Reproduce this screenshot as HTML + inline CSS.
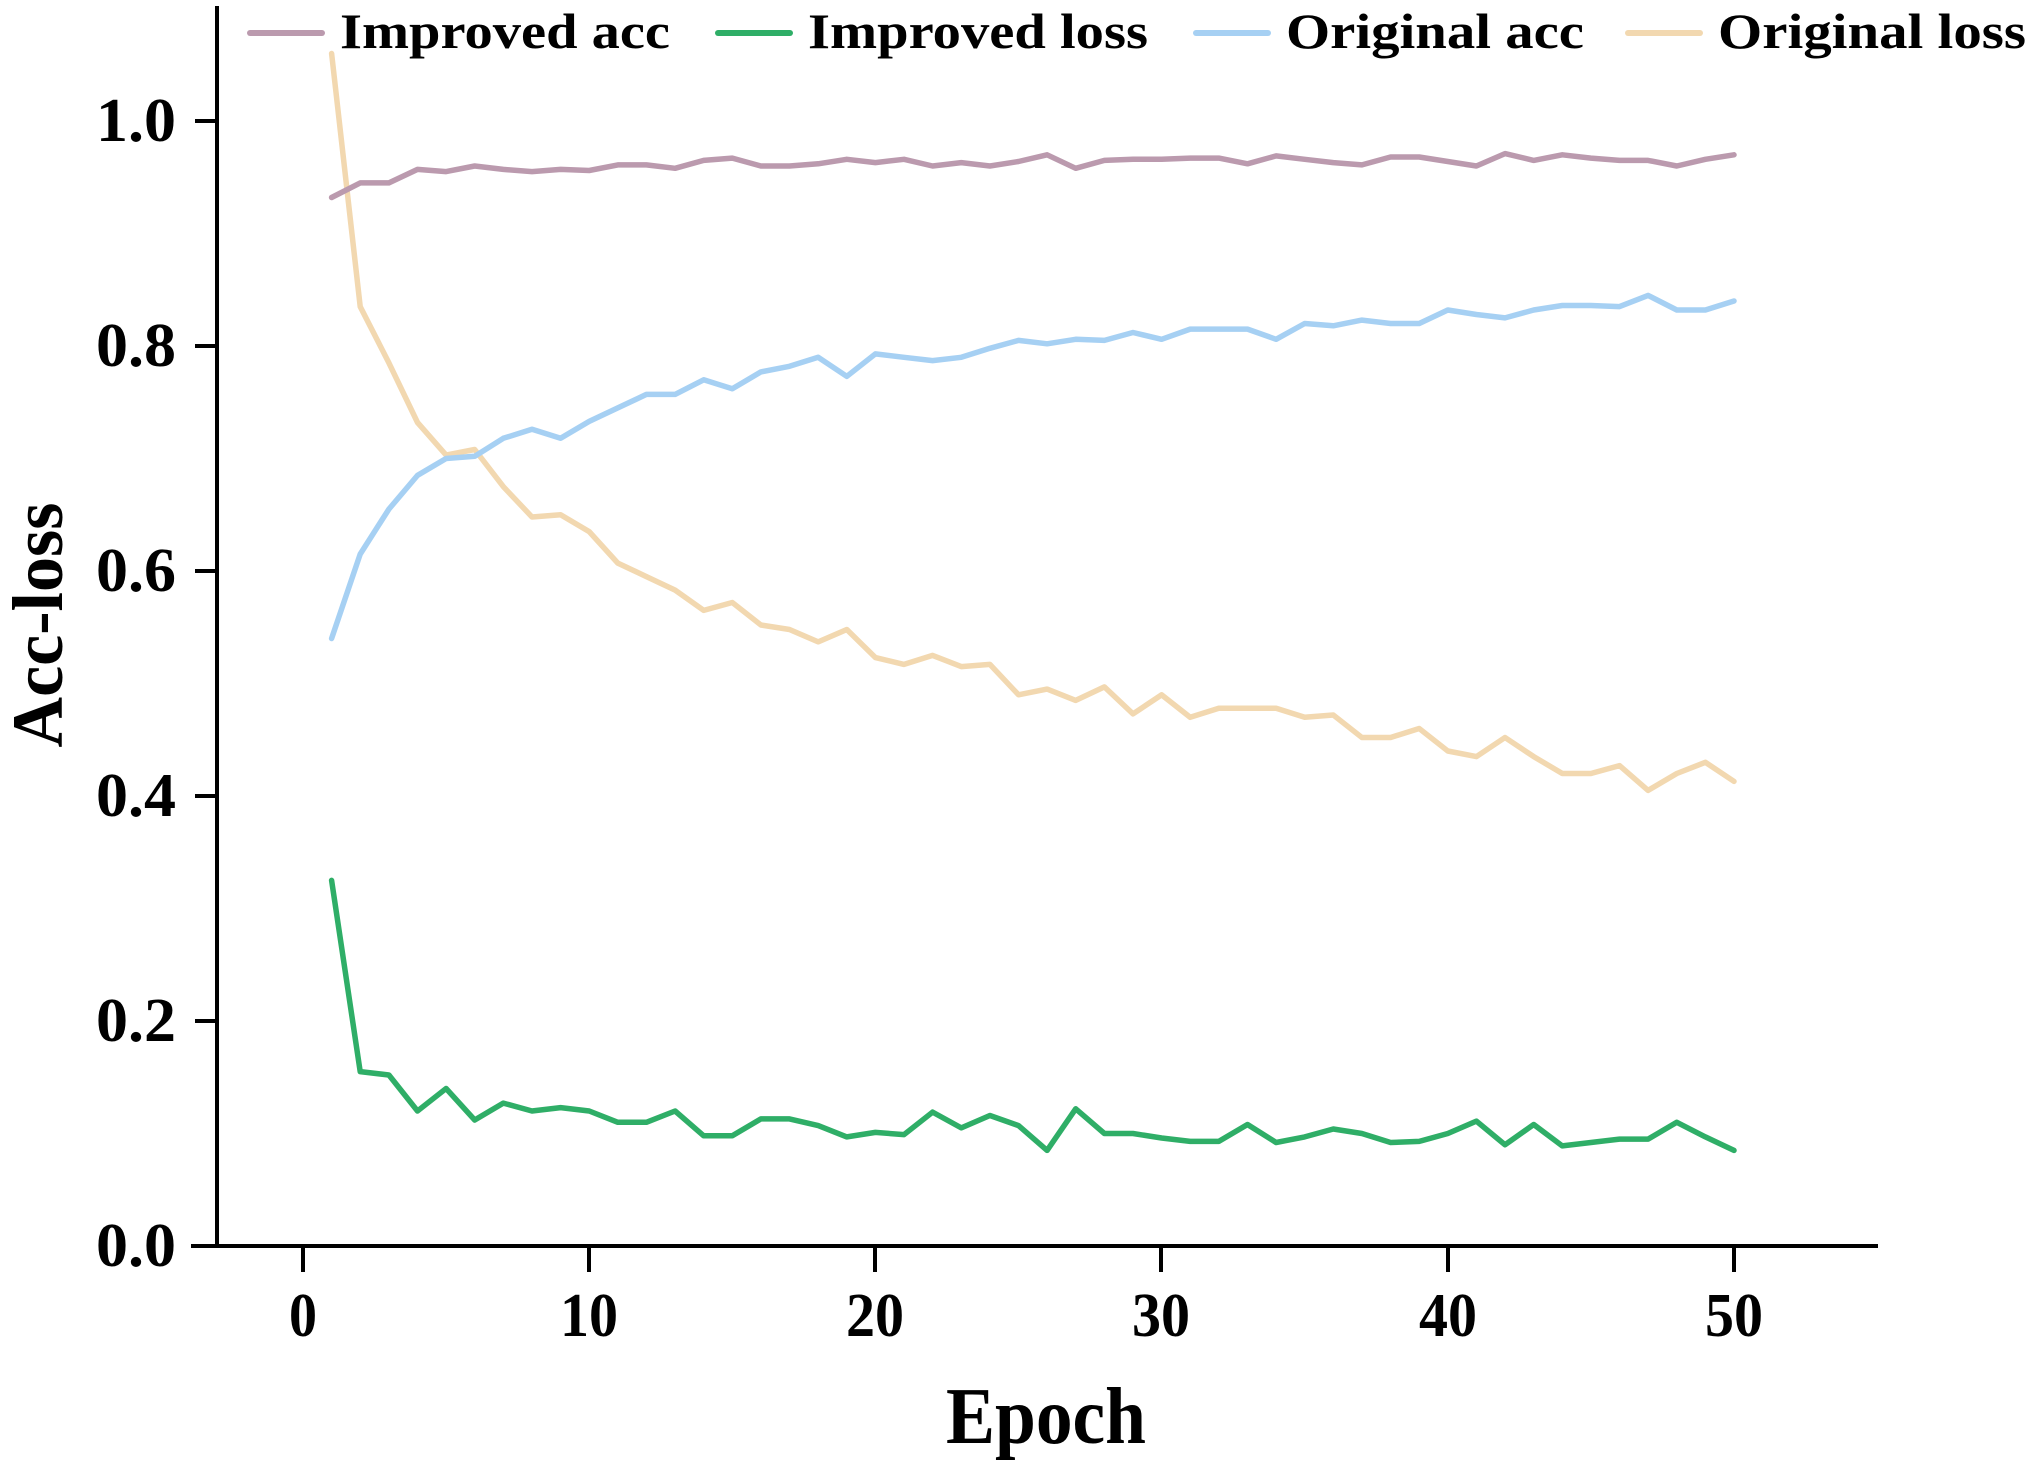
<!DOCTYPE html>
<html><head><meta charset="utf-8"><style>
html,body{margin:0;padding:0;background:#fff}
svg{display:block}
text{font-family:"Liberation Serif","Times New Roman",Times,serif;font-weight:bold;fill:#000}
</style></head><body>
<svg id="s" width="2038" height="1468" viewBox="0 0 2038 1468" xmlns="http://www.w3.org/2000/svg">
<g stroke="#000" stroke-width="4" fill="none">
<line x1="217" y1="6" x2="217" y2="1248"/>
<line x1="191" y1="1246" x2="1878" y2="1246"/>
<line x1="195" y1="121" x2="217" y2="121"/>
<line x1="195" y1="346" x2="217" y2="346"/>
<line x1="195" y1="571" x2="217" y2="571"/>
<line x1="195" y1="796" x2="217" y2="796"/>
<line x1="195" y1="1021" x2="217" y2="1021"/>
<line x1="303" y1="1246" x2="303" y2="1272"/>
<line x1="589" y1="1246" x2="589" y2="1272"/>
<line x1="875" y1="1246" x2="875" y2="1272"/>
<line x1="1161" y1="1246" x2="1161" y2="1272"/>
<line x1="1448" y1="1246" x2="1448" y2="1272"/>
<line x1="1734" y1="1246" x2="1734" y2="1272"/>
</g>
<g font-size="62" text-anchor="end">
<text x="176" y="141" textLength="80" lengthAdjust="spacingAndGlyphs">1.0</text>
<text x="176" y="366" textLength="80" lengthAdjust="spacingAndGlyphs">0.8</text>
<text x="176" y="591" textLength="80" lengthAdjust="spacingAndGlyphs">0.6</text>
<text x="176" y="816" textLength="80" lengthAdjust="spacingAndGlyphs">0.4</text>
<text x="176" y="1041" textLength="80" lengthAdjust="spacingAndGlyphs">0.2</text>
<text x="176" y="1266" textLength="80" lengthAdjust="spacingAndGlyphs">0.0</text>
</g>
<g font-size="62" text-anchor="middle">
<text x="303" y="1336" textLength="28" lengthAdjust="spacingAndGlyphs">0</text>
<text x="589" y="1336" textLength="58" lengthAdjust="spacingAndGlyphs">10</text>
<text x="875" y="1336" textLength="58" lengthAdjust="spacingAndGlyphs">20</text>
<text x="1161" y="1336" textLength="58" lengthAdjust="spacingAndGlyphs">30</text>
<text x="1448" y="1336" textLength="58" lengthAdjust="spacingAndGlyphs">40</text>
<text x="1734" y="1336" textLength="58" lengthAdjust="spacingAndGlyphs">50</text>
</g>
<text x="1046" y="1443" font-size="80" text-anchor="middle" textLength="200" lengthAdjust="spacingAndGlyphs">Epoch</text>
<text transform="translate(62,625) rotate(-90)" font-size="72" text-anchor="middle" textLength="245" lengthAdjust="spacingAndGlyphs">Acc-loss</text>
<g stroke-width="6" stroke-linecap="round">
<line x1="250" y1="33" x2="322" y2="33" stroke="#bb9aae"/>
<line x1="718" y1="33" x2="790" y2="33" stroke="#2fae67"/>
<line x1="1196" y1="33" x2="1268" y2="33" stroke="#a6d0f3"/>
<line x1="1628" y1="33" x2="1700" y2="33" stroke="#f2d8b0"/>
</g>
<g font-size="50">
<text x="340" y="48" textLength="330" lengthAdjust="spacingAndGlyphs">Improved acc</text>
<text x="808" y="48" textLength="340" lengthAdjust="spacingAndGlyphs">Improved loss</text>
<text x="1286" y="48" textLength="298" lengthAdjust="spacingAndGlyphs">Original acc</text>
<text x="1718" y="48" textLength="308" lengthAdjust="spacingAndGlyphs">Original loss</text>
</g>
<g id="series" fill="none" stroke-width="5.5" stroke-linejoin="round" stroke-linecap="round"></g>
</svg>
<script>
var D={
"#f2d8b0":[1.06,0.835,0.785,0.732,0.703,0.708,0.675,0.648,0.65,0.635,0.607,0.595,0.583,0.565,0.572,0.552,0.548,0.537,0.548,0.523,0.517,0.525,0.515,0.517,0.49,0.495,0.485,0.497,0.473,0.49,0.47,0.478,0.478,0.478,0.47,0.472,0.452,0.452,0.46,0.44,0.435,0.452,0.435,0.42,0.42,0.427,0.405,0.42,0.43,0.413],
"#a6d0f3":[0.54,0.615,0.655,0.685,0.7,0.702,0.718,0.726,0.718,0.733,0.745,0.757,0.757,0.77,0.762,0.777,0.782,0.79,0.773,0.793,0.79,0.787,0.79,0.798,0.805,0.802,0.806,0.805,0.812,0.806,0.815,0.815,0.815,0.806,0.82,0.818,0.823,0.82,0.82,0.832,0.828,0.825,0.832,0.836,0.836,0.835,0.845,0.832,0.832,0.84],
"#bb9aae":[0.932,0.945,0.945,0.957,0.955,0.96,0.957,0.955,0.957,0.956,0.961,0.961,0.958,0.965,0.967,0.96,0.96,0.962,0.966,0.963,0.966,0.96,0.963,0.96,0.964,0.97,0.958,0.965,0.966,0.966,0.967,0.967,0.962,0.969,0.966,0.963,0.961,0.968,0.968,0.964,0.96,0.971,0.965,0.97,0.967,0.965,0.965,0.96,0.966,0.97],
"#2fae67":[0.325,0.155,0.152,0.12,0.14,0.112,0.127,0.12,0.123,0.12,0.11,0.11,0.12,0.098,0.098,0.113,0.113,0.107,0.097,0.101,0.099,0.119,0.105,0.116,0.107,0.085,0.122,0.1,0.1,0.096,0.093,0.093,0.108,0.092,0.097,0.104,0.1,0.092,0.093,0.1,0.111,0.09,0.108,0.089,0.092,0.095,0.095,0.11,0.097,0.085]};
var g=document.getElementById('series'),ns="http://www.w3.org/2000/svg";
for(var c in D){var p=D[c].map(function(v,i){return (303+(i+1)*28.62).toFixed(1)+","+(1246-v*1125).toFixed(1)}).join(" ");
var e=document.createElementNS(ns,"polyline");e.setAttribute("points",p);e.setAttribute("stroke",c);g.appendChild(e);}
</script>
</body></html>
